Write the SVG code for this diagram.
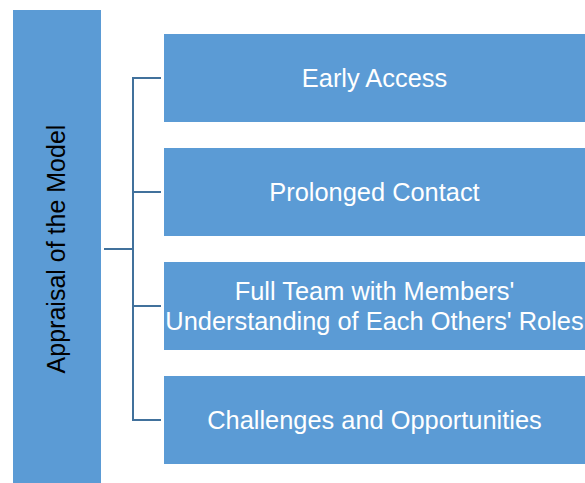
<svg xmlns="http://www.w3.org/2000/svg" width="585" height="483" viewBox="0 0 585 483">
<style>
.box{fill:#5B9BD5;}
.lbl{font-family:"Liberation Sans",Arial,sans-serif;font-size:25.4px;fill:#FFFFFF;text-anchor:middle;}
.root{font-family:"Liberation Sans",Arial,sans-serif;font-size:25px;fill:#000000;text-anchor:middle;}
.conn{stroke:#41719C;stroke-width:2;fill:none;}
</style>
<rect width="585" height="483" fill="#FFFFFF"/>
<g id="connectors">
<path class="conn" d="M104 249 H133 M161 78 H133 V420 H161 M133 192 H161 M133 306 H161"/>
</g>
<g id="root">
<rect class="box" x="13" y="10" width="88" height="473"/>
<text class="root" transform="translate(65 249) rotate(-90)" x="0" y="0">Appraisal of the Model</text>
</g>
<g id="n1">
<rect class="box" x="164" y="34" width="421" height="88"/>
<text class="lbl" x="374.5" y="86.5">Early Access</text>
</g>
<g id="n2">
<rect class="box" x="164" y="148" width="421" height="88"/>
<text class="lbl" x="374.5" y="200.5">Prolonged Contact</text>
</g>
<g id="n3">
<rect class="box" x="164" y="262" width="421" height="88"/>
<text class="lbl" x="374.5" y="300">Full Team with Members'</text>
<text class="lbl" x="374.5" y="330">Understanding of Each Others' Roles</text>
</g>
<g id="n4">
<rect class="box" x="164" y="376" width="421" height="88"/>
<text class="lbl" x="374.5" y="428.5">Challenges and Opportunities</text>
</g>
</svg>
